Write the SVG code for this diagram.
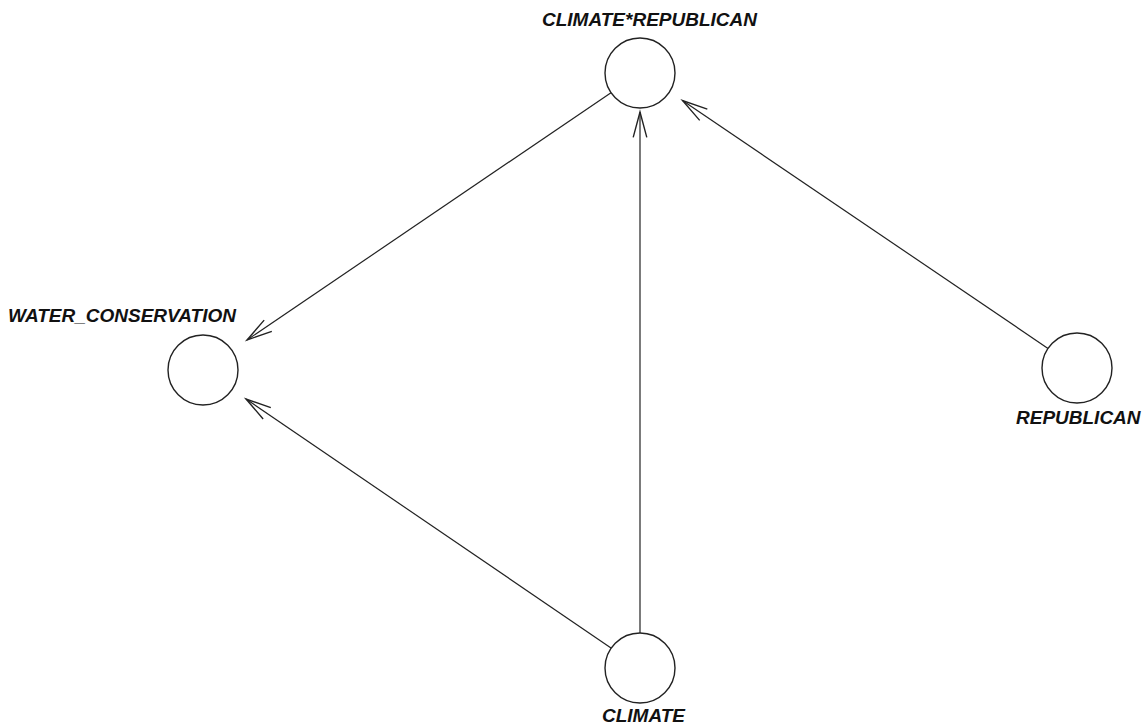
<svg xmlns="http://www.w3.org/2000/svg" width="1148" height="727" viewBox="0 0 1148 727">
<defs>
<style>
.node circle{fill:#fff;stroke:#222;stroke-width:1.4}
.node text{font-family:"Liberation Sans",Arial,sans-serif;font-size:19px;font-weight:bold;font-style:italic;fill:#111}
.edge{stroke:#222;stroke-width:1.2;fill:none;marker-end:url(#arr)}
</style>
<marker id="arr" markerUnits="userSpaceOnUse" markerWidth="30" markerHeight="20" viewBox="-24 -8 26 16" refX="0" refY="0" orient="auto" overflow="visible">
<path d="M-22,-5.9 L0,0 L-22,5.9" fill="none" stroke="#222" stroke-width="1.2"/>
</marker>
</defs>
<rect width="1148" height="727" fill="#fff"/>
<g id="connectors">
<line class="edge" x1="611" y1="92.7" x2="247" y2="340"/>
<line class="edge" x1="611" y1="648" x2="246" y2="399"/>
<line class="edge" x1="640" y1="633" x2="640" y2="112"/>
<line class="edge" x1="1048" y1="348.4" x2="682.5" y2="100.5"/>
</g>
<g id="node-climate-republican" class="node">
<circle cx="640" cy="73" r="35"/>
<text x="542" y="26">CLIMATE*REPUBLICAN</text>
</g>
<g id="node-water-conservation" class="node">
<circle cx="203" cy="370" r="35"/>
<text x="8" y="322">WATER_CONSERVATION</text>
</g>
<g id="node-climate" class="node">
<circle cx="640" cy="668" r="35"/>
<text x="602" y="722">CLIMATE</text>
</g>
<g id="node-republican" class="node">
<circle cx="1077" cy="368" r="35"/>
<text x="1016" y="424">REPUBLICAN</text>
</g>
</svg>
